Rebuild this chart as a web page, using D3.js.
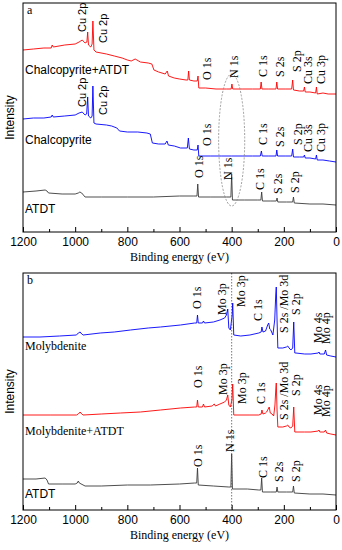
<!DOCTYPE html>
<html>
<head>
<meta charset="utf-8">
<script src="https://cdn.jsdelivr.net/npm/d3@7"></script>
<style>
  html, body { margin: 0; padding: 0; background: #fff; }
  svg { display: block; }
</style>
</head>
<body>
<script>
// ---------- DATA ----------
const beMajorTicks = [1200, 1000, 800, 600, 400, 200, 0];
const beMinorTicks = [1100, 900, 700, 500, 300, 100];

// Panel a: [binding energy (eV), intensity (a.u.)]
const chalcATDT = [[1200,182],[1160,183],[1120,184],[1092,184],[1088,187],[1084,185],[1040,187],[1000,188],[985,190],[973,192],[962,189],[955,190],[952,200],[949,187],[940,185],[935,188],[932,211],[928,182],[920,180],[880,178],[850,176],[820,174],[800,172],[785,171],[770,173],[750,170],[720,169],[706,168],[698,162],[680,160],[655,158],[647,161],[642,156],[620,154],[600,153],[575,152],[568,152],[565,161],[562,152],[545,151],[532,151],[529,156],[526,144],[500,144],[460,143],[420,143],[402,143],[399,148],[396,143],[360,143],[320,143],[290,143],[287,150],[284,143],[260,143],[230,143],[227,150],[224,143],[195,143],[170,143],[166,152],[163,142],[140,141],[124,141],[121,145],[118,140],[100,140],[78,139],[75,145],[72,138],[50,139],[30,138],[0,138]];
const chalc = [[1200,113],[1160,114],[1120,114],[1092,115],[1088,117],[1084,115],[1040,116],[1000,117],[985,119],[973,120],[962,117],[956,118],[952,135],[949,116],[940,114],[935,116],[932,146],[928,109],[920,108],[880,107],[860,106],[840,104],[830,101],[800,100],[760,100],[725,99],[712,98],[704,89],[680,88],[655,88],[648,91],[643,87],[620,86],[596,84],[570,84],[566,94],[562,83],[545,82],[532,82],[529,87],[526,76],[480,76],[440,76],[400,76],[360,76],[320,76],[290,76],[286,81],[283,76],[260,76],[230,76],[227,82],[224,76],[195,76],[170,76],[166,83],[163,75],[140,75],[124,75],[121,77],[118,74],[100,74],[78,73],[75,77],[72,72],[50,72],[25,71],[0,70]];
const atdtA = [[1200,40],[1150,41],[1115,42],[1108,41],[1102,39],[1050,38],[1000,38],[988,39],[982,40],[975,39],[962,35],[900,35],[800,35],[700,35],[600,36],[545,36],[533,36],[530,48],[527,35],[480,35],[420,35],[403,35],[400,58],[397,32],[350,32],[300,32],[288,32],[285,40],[282,31],[250,31],[229,31],[226,34],[223,30],[190,30],[166,30],[163,35],[160,29],[100,28],[50,28],[0,27]];

// Panel b
const molyb = [[1200,173],[1135,173],[1060,174],[995,175],[988,177],[981,178],[975,176],[969,175],[904,177],[850,178],[788,180],[720,182],[673,183],[596,185],[542,187],[534,187],[531,195],[528,187],[512,187],[508,189],[504,187],[470,188],[445,190],[427,192],[420,195],[415,201],[411,182],[405,180],[398,195],[396,207],[392,175],[365,174],[330,175],[296,177],[287,178],[284,183],[280,178],[270,179],[266,182],[262,185],[258,187],[254,181],[250,180],[242,175],[235,190],[231,215],[229,223],[226,190],[223,162],[204,162],[190,163],[185,164],[180,162],[173,160],[166,162],[162,188],[158,157],[154,157],[120,156],[96,156],[68,157],[65,158],[62,156],[45,156],[40,160],[36,155],[20,154],[0,153]];
const molybATDT = [[1200,95],[1096,95],[995,95],[988,96],[981,98],[975,96],[969,95],[900,96],[827,97],[750,98],[673,100],[596,102],[542,103],[534,103],[531,110],[528,103],[512,103],[508,106],[504,103],[475,104],[467,106],[462,104],[445,106],[427,108],[420,110],[415,115],[411,105],[405,103],[399,110],[396,126],[392,95],[330,95],[296,95],[287,96],[284,100],[280,96],[270,97],[266,98],[262,100],[256,103],[252,97],[245,96],[239,94],[234,105],[231,120],[229,127],[226,100],[223,83],[204,83],[190,84],[185,85],[180,83],[173,82],[166,84],[162,103],[158,78],[120,78],[96,78],[68,79],[65,80],[62,78],[45,78],[40,80],[36,77],[20,76],[0,75]];
const atdtB = [[1200,31],[1150,31],[1115,32],[1108,30],[1102,26],[1050,26],[1000,26],[992,27],[988,29],[984,27],[962,24],[900,24],[800,25],[712,25],[600,26],[542,27],[534,27],[531,42],[528,25],[470,24],[411,23],[403,23],[400,56],[397,21],[340,21],[296,20],[288,20],[285,32],[282,18],[250,18],[229,18],[226,23],[223,18],[190,18],[166,18],[163,24],[160,17],[100,16],[50,16],[0,15]];

// Peak labels: [text, binding energy, intensity level of text start]
const peakLabelsA = [
  ["Cu 2p",973,200],["Cu 2p",892,189],["O 1s",496,152],["N 1s",392,154],["C 1s",281,155],["S 2s",215,155],["S 2p",150,160],["Cu 3s",108,148],["Cu 3p",58,148],
  ["Cu 2p",973,125],["Cu 2p",892,117],["O 1s",496,86],["C 1s",281,87],["S 2s",215,85],["S 2p",146,87],["Cu 3s",108,80],["Cu 3p",58,80],
  ["O 1s",527,54],["N 1s",415,52],["C 1s",292,42],["S 2s",223,38],["S 2p",158,39]
];
const peakLabelsB = [
  ["O 1s",535,201],["Mo 3p",438,195],["Mo 3p",365,203],["C 1s",300,189],["S 2s /Mo 3d",200,177],["S 2p",154,195],["Mo 4s",69,167],["Mo 4p",38,166],
  ["O 1s",531,122],["Mo 3p",435,115],["Mo 3p",362,106],["C 1s",289,106],["S 2s /Mo 3d",200,90],["S 2p",154,114],["Mo 4s",69,95],["Mo 4p",38,93],
  ["O 1s",531,43],["N 1s",408,58],["C 1s",281,32],["S 2s",219,28],["S 2p",154,28]
];
// Sample names: [text, intensity level of baseline, font]
const sampleLabelsA = [["Chalcopyrite+ATDT",158,"sans"],["Chalcopyrite",88,"sans"],["ATDT",19,"sans"]];
const sampleLabelsB = [["Molybdenite",160,"serif"],["Molybdenite+ATDT",75,"serif"],["ATDT",12,"sans"]];

// ---------- DRAW ----------
const SANS = "Liberation Sans, Arial, sans-serif";
const SERIF = "Liberation Serif, Times New Roman, serif";
const RED = "#ff0000", BLUE = "#0000ff", GREY = "#3a3a3a";

const svg = d3.select("body").append("svg").attr("width", 342).attr("height", 550);

function panel(cfg) {
  const x = d3.scaleLinear().domain([1200, 0]).range([23, 336]);
  const y = d3.scaleLinear().domain([0, cfg.yMax]).range([cfg.bottom, cfg.top]);
  const g = svg.append("g");

  const line = d3.line().x(d => x(d[0])).y(d => y(d[1]));
  cfg.series.forEach(s => {
    g.append("path").datum(s.data).attr("d", line)
      .attr("fill", "none").attr("stroke", s.color).attr("stroke-width", 0.9)
      .attr("stroke-linejoin", "round");
  });

  if (cfg.extra) cfg.extra(g, x, y);

  // frame
  g.append("rect").attr("x", x(1200)).attr("y", cfg.top)
    .attr("width", x(0) - x(1200)).attr("height", cfg.bottom - cfg.top)
    .attr("fill", "none").attr("stroke", "#000").attr("stroke-width", 1);

  // bottom axis, inward ticks
  const ax = g.append("g").attr("transform", `translate(0,${cfg.bottom})`)
    .call(d3.axisBottom(x).tickValues(beMajorTicks).tickSize(-5).tickPadding(5).tickFormat(d3.format("d")));
  ax.select(".domain").remove();
  ax.selectAll("text").attr("font-family", SANS).attr("font-size", 12).attr("fill", "#000");
  ax.selectAll("line").attr("stroke", "#000");
  const axm = g.append("g").attr("transform", `translate(0,${cfg.bottom})`)
    .call(d3.axisBottom(x).tickValues(beMinorTicks).tickSize(-3).tickFormat(""));
  axm.select(".domain").remove();
  axm.selectAll("line").attr("stroke", "#000");

  g.append("text").attr("x", (x(1200) + x(0)) / 2).attr("y", cfg.bottom + 29)
    .attr("text-anchor", "middle").attr("font-family", SERIF).attr("font-size", 12)
    .text("Binding energy (eV)");

  g.append("text").attr("transform", `translate(10,${(cfg.top + cfg.bottom) / 2}) rotate(-90)`)
    .attr("text-anchor", "middle").attr("dy", "0.35em")
    .attr("font-family", SANS).attr("font-size", 12).text("Intensity");

  g.append("text").attr("x", x(1200) + 4).attr("y", cfg.top + 11)
    .attr("font-family", SERIF).attr("font-size", 12).text(cfg.letter);

  cfg.peaks.forEach(p => {
    const sans = (p[0] === "Cu 2p");
    g.append("text")
      .attr("transform", `translate(${x(p[1])},${y(p[2])}) rotate(-90)`)
      .attr("dy", "0.35em")
      .attr("font-family", sans ? SANS : SERIF).attr("font-size", sans ? 11 : 12)
      .text(p[0]);
  });

  cfg.samples.forEach(s => {
    g.append("text").attr("x", x(1200) + 2).attr("y", y(s[1]))
      .attr("font-family", s[2] === "sans" ? SANS : SERIF).attr("font-size", 12)
      .text(s[0]);
  });
}

panel({
  top: 3, bottom: 232, yMax: 229, letter: "a",
  series: [{data: chalcATDT, color: RED}, {data: chalc, color: BLUE}, {data: atdtA, color: GREY}],
  peaks: peakLabelsA, samples: sampleLabelsA,
  extra: (g, x, y) => {
    const cx = x(400), cy = y(92);
    const rx = Math.abs(x(450) - x(400)), ry = Math.abs(y(158) - y(92));
    g.append("ellipse").attr("cx", cx).attr("cy", cy).attr("rx", rx).attr("ry", ry)
      .attr("fill", "none").attr("stroke", "#888").attr("stroke-width", 0.8)
      .attr("stroke-dasharray", "2,1.5");
  }
});

panel({
  top: 273, bottom: 510, yMax: 237, letter: "b",
  series: [{data: molyb, color: BLUE}, {data: molybATDT, color: RED}, {data: atdtB, color: GREY}],
  peaks: peakLabelsB, samples: sampleLabelsB,
  extra: (g, x, y) => {
    g.append("line").attr("x1", x(400)).attr("x2", x(400)).attr("y1", y(237)).attr("y2", y(0))
      .attr("stroke", "#555").attr("stroke-width", 0.8).attr("stroke-dasharray", "1.5,1.5");
  }
});
</script>
</body>
</html>
